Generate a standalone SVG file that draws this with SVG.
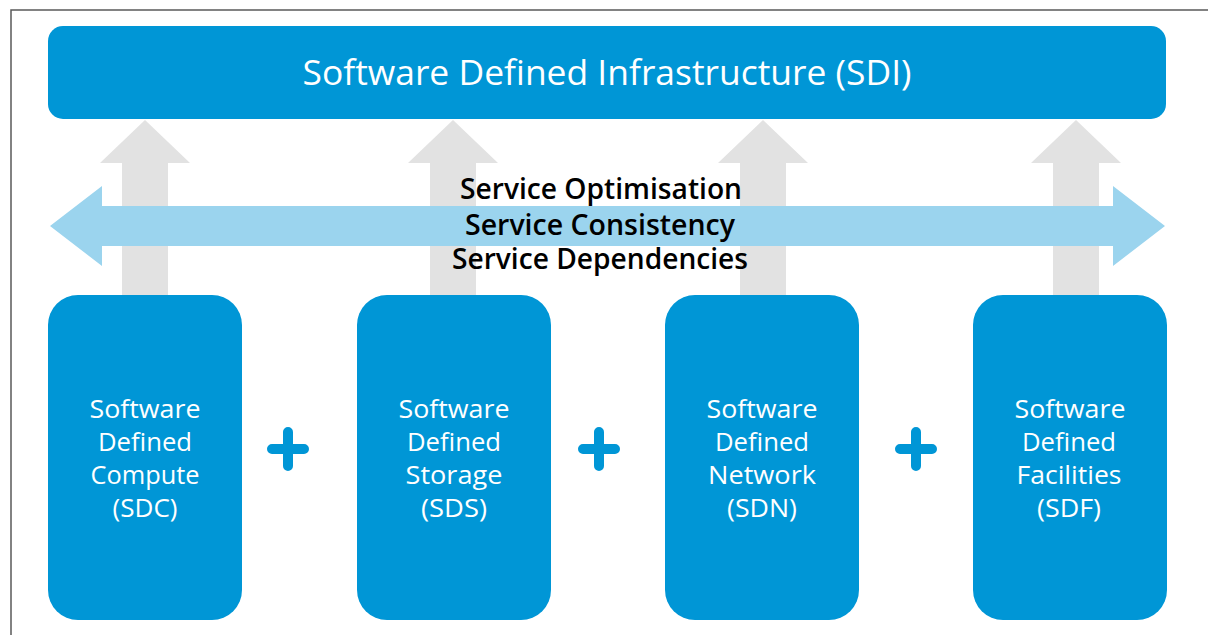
<svg xmlns="http://www.w3.org/2000/svg" width="1208" height="635" viewBox="0 0 1208 635">
  <style>
    .frame { stroke: #5a5a5a; stroke-width: 1.5; fill: none; }
    .sdi { fill: #0096d6; }
    .lift { fill: #e2e2e2; }
    .flow { fill: #9bd4ee; }
    .plus { stroke: #0096d6; stroke-width: 10; stroke-linecap: round; fill: none; }
    .title { font-family: "Open Sans", "Noto Sans", sans-serif; font-size: 34px; font-weight: 500; fill: #ffffff; text-anchor: middle; }
    .label { font-family: "Open Sans", "Noto Sans", sans-serif; font-size: 26px; font-weight: 500; fill: #ffffff; text-anchor: middle; }
    .service { font-family: "Open Sans", "Noto Sans", sans-serif; font-size: 28px; font-weight: 600; fill: #000000; text-anchor: middle; }
  </style>
  <defs>
    <!-- upward block arrow, centred on x=0, tip at y=120 -->
    <polygon id="up-arrow" points="0,120 45,163 23,163 23,300 -23,300 -23,163 -45,163"/>
  </defs>

  <rect width="1208" height="635" fill="#ffffff"/>
  <path class="frame" d="M11,635 V10 H1208"/>

  <g id="connectors">
    <use href="#up-arrow" class="lift" x="145"/>
    <use href="#up-arrow" class="lift" x="453"/>
    <use href="#up-arrow" class="lift" x="763"/>
    <use href="#up-arrow" class="lift" x="1076"/>
    <polygon class="flow" points="50,226 102,186 102,206 1113,206 1113,186 1165,226 1113,266 1113,246 102,246 102,266"/>
  </g>

  <g id="services">
    <text class="service" x="601" y="199" textLength="282" lengthAdjust="spacingAndGlyphs">Service Optimisation</text>
    <text class="service" x="600" y="235" textLength="270" lengthAdjust="spacingAndGlyphs">Service Consistency</text>
    <text class="service" x="600" y="269" textLength="296" lengthAdjust="spacingAndGlyphs">Service Dependencies</text>
  </g>

  <g id="sdi">
    <rect class="sdi" x="48" y="26" width="1118" height="93" rx="15"/>
    <text class="title" x="607" y="85" textLength="609" lengthAdjust="spacingAndGlyphs">Software Defined Infrastructure (SDI)</text>
  </g>

  <g id="sdc">
    <rect class="sdi" x="48" y="295" width="194" height="325" rx="30"/>
    <text class="label" x="145" y="418" textLength="111" lengthAdjust="spacingAndGlyphs">Software</text>
    <text class="label" x="145" y="451" textLength="94" lengthAdjust="spacingAndGlyphs">Defined</text>
    <text class="label" x="145" y="484" textLength="109" lengthAdjust="spacingAndGlyphs">Compute</text>
    <text class="label" x="145" y="517" textLength="65" lengthAdjust="spacingAndGlyphs">(SDC)</text>
  </g>

  <g id="sds">
    <rect class="sdi" x="357" y="295" width="194" height="325" rx="30"/>
    <text class="label" x="454" y="418" textLength="111" lengthAdjust="spacingAndGlyphs">Software</text>
    <text class="label" x="454" y="451" textLength="94" lengthAdjust="spacingAndGlyphs">Defined</text>
    <text class="label" x="454" y="484" textLength="97" lengthAdjust="spacingAndGlyphs">Storage</text>
    <text class="label" x="454" y="517" textLength="66" lengthAdjust="spacingAndGlyphs">(SDS)</text>
  </g>

  <g id="sdn">
    <rect class="sdi" x="665" y="295" width="194" height="325" rx="30"/>
    <text class="label" x="762" y="418" textLength="111" lengthAdjust="spacingAndGlyphs">Software</text>
    <text class="label" x="762" y="451" textLength="94" lengthAdjust="spacingAndGlyphs">Defined</text>
    <text class="label" x="762" y="484" textLength="108" lengthAdjust="spacingAndGlyphs">Network</text>
    <text class="label" x="762" y="517" textLength="70" lengthAdjust="spacingAndGlyphs">(SDN)</text>
  </g>

  <g id="sdf">
    <rect class="sdi" x="973" y="295" width="194" height="325" rx="30"/>
    <text class="label" x="1070" y="418" textLength="111" lengthAdjust="spacingAndGlyphs">Software</text>
    <text class="label" x="1069" y="451" textLength="94" lengthAdjust="spacingAndGlyphs">Defined</text>
    <text class="label" x="1069" y="484" textLength="105" lengthAdjust="spacingAndGlyphs">Facilities</text>
    <text class="label" x="1069" y="517" textLength="64" lengthAdjust="spacingAndGlyphs">(SDF)</text>
  </g>

  <g id="plus-signs">
    <path class="plus" d="M288,432 V466 M272,449 H304"/>
    <path class="plus" d="M599,432 V466 M583,449 H615"/>
    <path class="plus" d="M916,432 V466 M900,449 H932"/>
  </g>
</svg>
